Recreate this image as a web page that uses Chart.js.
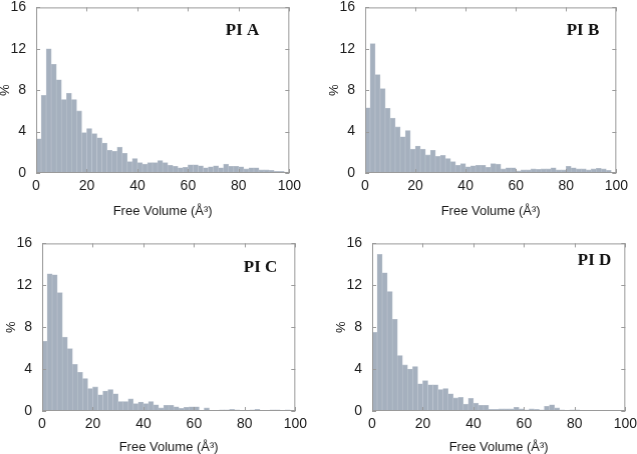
<!DOCTYPE html>
<html>
<head>
<meta charset="utf-8">
<script src="https://cdn.jsdelivr.net/npm/chart.js@4.4.1/dist/chart.umd.min.js"></script>
<style>
  html, body { margin: 0; padding: 0; background: #fff; }
  body { width: 637px; height: 454px; position: relative; overflow: hidden; }
  canvas { position: absolute; }
</style>
</head>
<body>
<canvas id="cA"></canvas>
<canvas id="cB"></canvas>
<canvas id="cC"></canvas>
<canvas id="cD"></canvas>
<script>
// ---- data ----
const binCenters = [1,3,5,7,9,11,13,15,17,19,21,23,25,27,29,31,33,35,37,39,
  41,43,45,47,49,51,53,55,57,59,61,63,65,67,69,71,73,75,77,79,
  81,83,85,87,89,91,93,95,97,99];
const xTickValues = [0,20,40,60,80,100];
const yTickValues = [0,4,8,12,16];
const panelNames = ["PI A","PI B","PI C","PI D"];
const xAxisTitle = "Free Volume (Å³)";
const yAxisTitle = "%";

const piA = [3.3,7.5,12.0,10.5,9.0,7.1,7.7,7.1,6.0,3.9,
  4.3,3.8,3.4,2.9,2.2,2.1,2.5,1.9,1.1,1.4,
  1.0,0.85,1.0,1.0,1.2,1.0,0.75,0.65,0.5,0.55,
  0.8,0.8,0.7,0.5,0.6,0.7,0.5,0.85,0.65,0.65,
  0.6,0.4,0.5,0.5,0.3,0.3,0.25,0.15,0.15,0.1];
const piB = [6.3,12.5,9.5,8.15,6.25,5.3,4.45,3.5,4.1,2.3,
  2.6,2.3,1.75,2.2,1.6,1.7,1.4,1.1,0.75,0.9,
  0.6,0.7,0.75,0.75,0.55,0.9,0.85,0.4,0.5,0.5,
  0.2,0.3,0.3,0.4,0.35,0.4,0.4,0.5,0.3,0.3,
  0.65,0.5,0.4,0.4,0.3,0.4,0.45,0.4,0.25,0.05];
const piC = [6.65,13.1,13.0,11.3,7.05,5.95,4.45,3.7,3.1,2.15,
  2.3,1.55,1.9,2.05,1.65,0.9,0.9,1.15,0.7,0.85,
  0.7,0.9,0.6,0.3,0.55,0.55,0.4,0.25,0.35,0.4,
  0.4,0.05,0.3,0.05,0.03,0.1,0.12,0.15,0.12,0.06,
  0.06,0.1,0.15,0.06,0.03,0.1,0.1,0.06,0.1,0.06];
const piD = [7.5,14.95,13.2,11.4,8.75,5.3,4.4,4.0,4.25,2.6,
  2.9,2.5,2.5,2.05,2.15,1.65,1.25,1.3,0.65,1.2,
  0.75,0.55,0.55,0.15,0.15,0.2,0.2,0.2,0.35,0.2,
  0.1,0.2,0.15,0.1,0.45,0.6,0.3,0.1,0.05,0.1,
  0.1,0.05,0.05,0,0,0,0,0,0,0];

// ---- layout / style ----
const panels = [
  { id: "cA", name: panelNames[0], values: piA, area: { l: 36, r: 289, t: 7, b: 173 }, labelDX: 30, labelDY: 28, xh: 46 },
  { id: "cB", name: panelNames[1], values: piB, area: { l: 365, r: 616, t: 7, b: 173 }, labelDX: 17, labelDY: 28, xh: 46 },
  { id: "cC", name: panelNames[2], values: piC, area: { l: 42, r: 295, t: 243, b: 411 }, labelDX: 18, labelDY: 29, xh: 44 },
  { id: "cD", name: panelNames[3], values: piD, area: { l: 372, r: 625, t: 243, b: 411 }, labelDX: 14, labelDY: 22, xh: 44 }
];
const Y_AXIS_W = 38, PAD_T = 10, PAD_R = 16;
const barColor = "#a5b0be";
const frameColor = "#9a9a9a";
const textColor = "#1a1a1a";
const sansFont = "'Liberation Sans', Arial, sans-serif";

const framePlugin = {
  id: "frame",
  afterDatasetsDraw(chart, args, opts) {
    const { ctx, chartArea: a, scales } = chart;
    const x = scales.x, y = scales.y;
    ctx.save();
    ctx.strokeStyle = frameColor;
    ctx.lineWidth = 1;
    ctx.strokeRect(a.left + 0.5, a.top + 0.5, a.right - a.left - 1, a.bottom - a.top - 1);
    ctx.beginPath();
    x.ticks.forEach(t => {
      const px = Math.round(x.getPixelForValue(t.value)) + 0.5;
      ctx.moveTo(px, a.bottom); ctx.lineTo(px, a.bottom - 4);
      ctx.moveTo(px, a.top); ctx.lineTo(px, a.top + 4);
    });
    y.ticks.forEach(t => {
      const py = Math.round(y.getPixelForValue(t.value)) + 0.5;
      ctx.moveTo(a.left, py); ctx.lineTo(a.left + 4, py);
      ctx.moveTo(a.right, py); ctx.lineTo(a.right - 4, py);
    });
    ctx.stroke();
    ctx.font = "bold 17px 'Liberation Serif', 'Times New Roman', serif";
    ctx.fillStyle = "#111";
    ctx.textAlign = "right";
    ctx.textBaseline = "alphabetic";
    ctx.fillText(opts.label, a.right - opts.dx, a.top + opts.dy);
    ctx.restore();
  }
};

function makeConfig(p) {
  return {
    type: "bar",
    data: {
      datasets: [{
        data: binCenters.map((c, i) => ({ x: c, y: p.values[i] })),
        backgroundColor: barColor,
        borderColor: "#bcc4cf",
        borderWidth: 0.6,
        barPercentage: 1,
        categoryPercentage: 1
      }]
    },
    options: {
      responsive: false,
      animation: false,
      devicePixelRatio: 1,
      layout: { padding: { top: PAD_T, right: PAD_R, left: 0, bottom: 0 } },
      plugins: {
        legend: { display: false },
        tooltip: { enabled: false },
        frame: { label: p.name, dx: p.labelDX, dy: p.labelDY }
      },
      scales: {
        x: {
          type: "linear",
          min: 0, max: 100,
          offset: false,
          afterFit: s => { s.height = p.xh; },
          afterBuildTicks: s => { s.ticks = xTickValues.map(v => ({ value: v })); },
          grid: { display: false, drawTicks: false, offset: false },
          border: { display: false },
          ticks: { color: textColor, font: { family: sansFont, size: 14 }, padding: 5, maxRotation: 0 },
          title: { display: true, text: xAxisTitle, color: textColor, font: { family: sansFont, size: 13 }, padding: { top: 0, bottom: 0 } }
        },
        y: {
          min: 0, max: 16,
          afterFit: s => { s.width = Y_AXIS_W; },
          afterBuildTicks: s => { s.ticks = yTickValues.map(v => ({ value: v })); },
          grid: { display: false, drawTicks: false },
          border: { display: false },
          ticks: { color: textColor, font: { family: sansFont, size: 14 }, padding: 10 },
          title: { display: true, text: yAxisTitle, color: textColor, font: { family: sansFont, size: 13 }, padding: { top: 0, bottom: 0 } }
        }
      }
    },
    plugins: [framePlugin]
  };
}

function setSize(cv, w, h) {
  cv.width = w; cv.height = h;
  cv.style.width = w + "px"; cv.style.height = h + "px";
}

panels.forEach(p => {
  const cv = document.getElementById(p.id);
  let w = p.area.r - p.area.l + Y_AXIS_W + PAD_R;
  let h = p.area.b - p.area.t + PAD_T + p.xh;
  setSize(cv, w, h);
  // first pass: measure the plot area the layout gives
  let chart = new Chart(cv, makeConfig(p));
  let ca = chart.chartArea;
  const dw = (p.area.r - p.area.l) - (ca.right - ca.left);
  const dh = (p.area.b - p.area.t) - (ca.bottom - ca.top);
  chart.destroy();
  // second pass with corrected canvas size
  w += dw; h += dh;
  setSize(cv, w, h);
  chart = new Chart(cv, makeConfig(p));
  ca = chart.chartArea;
  cv.style.left = (p.area.l - ca.left) + "px";
  cv.style.top = (p.area.t - ca.top) + "px";
});
</script>
</body>
</html>
